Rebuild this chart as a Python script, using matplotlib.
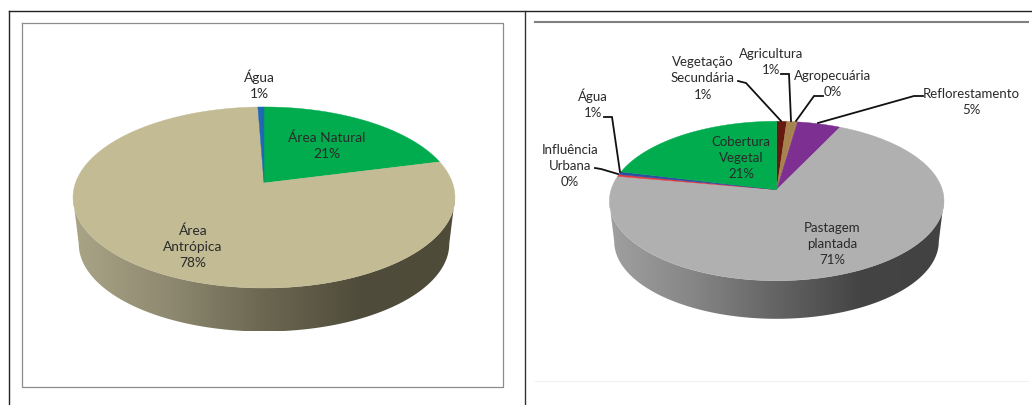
import numpy as np
import matplotlib
matplotlib.use("Agg")
import matplotlib.pyplot as plt
from matplotlib.colors import LinearSegmentedColormap
from matplotlib.patches import Polygon

plt.rcParams["font.family"] = ["Lato", "DejaVu Sans"]

# data, clockwise from 12 o'clock
left_labels = ["Área Natural", "Área\nAntrópica", "Água"]
left_values = [21, 78.4, 0.6]
left_colors = ["#00ac4e", "#c3bb94", "#1f68b4"]

right_labels = ["Vegetação\nSecundária", "Agricultura", "Agropecuária", "Reflorestamento",
                "Pastagem\nplantada", "Influência\nUrbana", "Água", "Cobertura\nVegetal"]
right_values = [1.1, 1.0, 0.2, 4.8, 70.7, 0.4, 0.6, 21.2]
right_colors = ["#66190f", "#a5824e", "#a5824e", "#7e2f92",
                "#b0b0b0", "#e2383f", "#2b4ea0", "#00ac4e"]

# label centres in pixels
left_label_pos = [(326.7, 146), (193, 247), (259, 85)]
right_label_pos = [(703, 78.5), (771, 62), (833, 84), (971, 102),
                   (832, 244), (570, 166), (593, 104), (741, 158)]

# leader lines in pixels, None = no line
right_leaders = [
    [(738, 82), (746, 84), (781, 122)],
    [(781, 75), (789, 75), (791, 122)],
    [(823, 97), (814, 97), (796, 122)],
    [(923, 97), (914, 97), (818, 124)],
    None,
    [(595, 169), (601, 170), (618, 175)],
    [(604, 118), (612, 118), (620, 173)],
    None,
]


def rim(theta, geo):
    # top disc is a circle seen in perspective, so the centre sits above the ellipse centre
    u, v = np.sin(theta), np.cos(theta)
    w = 1 + geo["k"] * v
    return geo["cx"] + geo["a"] * u / w, geo["cy"] - geo["b"] * v / w


def draw_pie(ax, values, colors, geo, side_colors):
    # side wall with horizontal gradient, clipped to the band between the two ellipses
    t = np.linspace(0, np.pi, 200)
    top_x = geo["ex"] - geo["ea"] * np.cos(t)
    top_y = geo["ey"] + geo["eb"] * np.sin(t)
    bot_x = geo["ex"] - geo["ea"] * geo["shrink"] * np.cos(t)
    bot_y = geo["bot_cy"] + geo["eb"] * geo["shrink"] * np.sin(t)
    band = np.vstack([np.column_stack([bot_x, bot_y]),
                      np.column_stack([top_x[::-1], top_y[::-1]])])
    clip = Polygon(band, closed=True, transform=ax.transData, fc="none", ec="none")
    ax.add_patch(clip)
    cmap = LinearSegmentedColormap.from_list("side", side_colors)
    grad = np.linspace(0, 1, 256).reshape(1, -1)
    im = ax.imshow(grad, cmap=cmap, aspect="auto", zorder=1,
                   extent=(geo["ex"] - geo["ea"], geo["ex"] + geo["ea"], bot_y.max(), geo["ey"]))
    im.set_clip_path(clip)

    edges = np.cumsum([0] + list(values)) / sum(values) * 2 * np.pi
    for start, end, color in zip(edges[:-1], edges[1:], colors):
        th = np.linspace(start, end, max(int((end - start) * 120), 3))
        x, y = rim(th, geo)
        ax.fill(np.r_[geo["cx"], x], np.r_[geo["cy"], y], color=color, lw=0.3, zorder=2)


def label(ax, pos, name, value, size, spacing):
    ax.text(pos[0], pos[1], f"{name}\n{value:.0f}%", ha="center", va="center", multialignment="center",
            fontsize=size, color="#2a2a2a", linespacing=spacing, zorder=5)


fig = plt.figure(figsize=(10.32, 4.06), dpi=100)
ax = fig.add_axes([0, 0, 1, 1])

left_geo = dict(cx=264, cy=184, a=188.5, b=88.2, k=0.16,
                ex=264, ey=198.5, ea=191, eb=90.5, shrink=0.97, bot_cy=244.7)
right_geo = dict(cx=776.7, cy=190.7, a=165.6, b=78.1, k=0.1416,
                 ex=776.5, ey=202, ea=167.3, eb=79.7, shrink=0.97, bot_cy=242.5)

draw_pie(ax, left_values, left_colors, left_geo,
         ["#aaa487", "#8e8970", "#6b6751", "#504c3b", "#4e4b39"])
draw_pie(ax, right_values, right_colors, right_geo,
         ["#a0a0a0", "#868686", "#646464", "#444444", "#424242"])

for pos, name, value in zip(left_label_pos, left_labels, left_values):
    label(ax, pos, name, value, 9.9, 1.38)
for pos, name, value in zip(right_label_pos, right_labels, right_values):
    label(ax, pos, name, value, 9.5, 1.42)

for line in right_leaders:
    if line is not None:
        xs, ys = zip(*line)
        ax.plot(xs, ys, color="#111111", lw=1.3, zorder=4, solid_joinstyle="miter")

# page table lines and chart frames
ax.plot([8.5, 1032], [11.5, 11.5], color="#222222", lw=1.0, zorder=6)
ax.plot([8.5, 8.5], [11.5, 406], color="#222222", lw=1.0, zorder=6)
ax.plot([524.5, 524.5], [11.5, 406], color="#333333", lw=1.0, zorder=6)
ax.plot([21.5, 503, 503, 21.5, 21.5], [24, 24, 388, 388, 24], color="#8c8c8c", lw=0.9, zorder=3)
ax.plot([535, 1028], [23, 23], color="#808080", lw=1.5, zorder=3)
ax.plot([535, 1028], [382, 382], color="#f0f0f0", lw=0.8, zorder=3)

ax.set_xlim(0, 1032)
ax.set_ylim(406, 0)
ax.axis("off")
fig.savefig("out.png", dpi=100, facecolor="white")
